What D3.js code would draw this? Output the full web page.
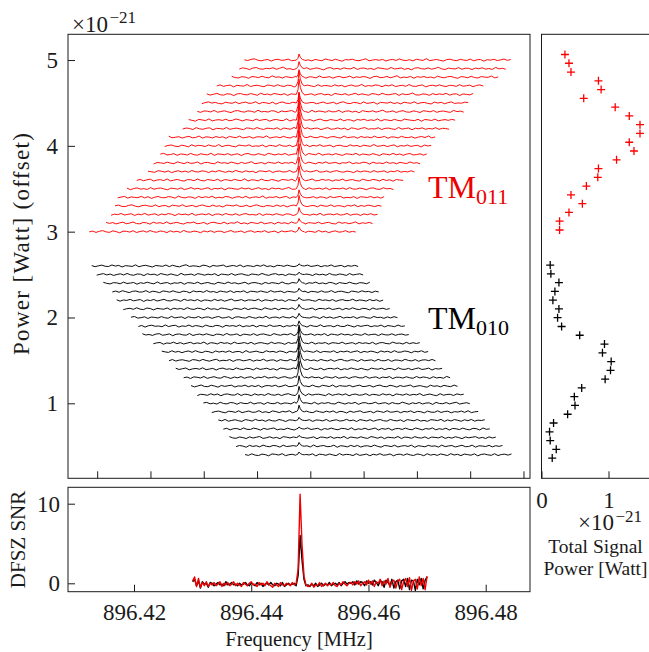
<!DOCTYPE html>
<html><head><meta charset="utf-8">
<script src="https://cdn.jsdelivr.net/npm/d3@7/dist/d3.min.js"></script>
<style>
body{margin:0;background:#fff;}
svg{display:block;}
</style></head><body>
<svg id="chart" width="649" height="652"></svg>
<script>
// ---------------- DATA ----------------
const peakFreq = 896.4483;      // MHz, injected signal
const windowWidth = 0.04;       // MHz, width of each spectrum

// TM011 (red), top trace first: vertical offsets (1e-21 W), window start (MHz), total signal power (1e-21 W)
const redOffset = [5.0,4.9,4.8,4.7,4.6,4.5,4.4,4.3,4.2,4.1,4.0,3.9,3.8,3.7,3.6,3.5,3.4,3.3,3.2,3.1,3.0];
const redStart = [896.44009,896.43934,896.43820,896.43595,896.43445,896.43370,896.43303,896.43174,896.43084,896.42874,896.42814,896.42748,896.42649,896.42563,896.42394,896.42248,896.42108,896.42068,896.42008,896.41933,896.41682];
const redPower = [0.35,0.41,0.44,0.85,0.89,0.63,1.10,1.31,1.47,1.47,1.31,1.38,1.12,0.85,0.84,0.67,0.44,0.61,0.41,0.27,0.27];

// TM010 (black), top trace first
const blackOffset = [2.6,2.5,2.4,2.3,2.2,2.1,2.0,1.9,1.8,1.7,1.6,1.5,1.4,1.3,1.2,1.1,1.0,0.9,0.8,0.7,0.6,0.5,0.4];
const blackStart = [896.41718,896.41793,896.41892,896.42027,896.42093,896.42192,896.42308,896.42418,896.42478,896.42643,896.42769,896.42879,896.42979,896.43099,896.43209,896.43303,896.43394,896.43520,896.43619,896.43694,896.43784,896.43885,896.44020];
const blackPower = [0.13,0.14,0.26,0.20,0.17,0.26,0.24,0.30,0.57,0.94,0.91,1.04,1.03,0.95,0.60,0.49,0.50,0.39,0.18,0.12,0.13,0.22,0.16];

// spectrum noise (1e-24 W) along each window
const redNoise = [
[3,-6,8,14,-2,-9,1,6,-12,4,9,-3,0,11,-7,-4,5,17,-5,2,-10,7,-1,-8,12,3,-6,9,-2,-14,6,1,10,-4,-7,3,15,-9,0,5,-3,8,-11,2,7,-5,13,-1,-6,4,-10,9,2,-4,16,-8,1,6,-3,-12,5,10,-2,-7,8,0,-5,11,-9,3,7,-13,4,-1,9,-6,2,12,-4,6],
[-5,9,2,-11,6,13,-3,-7,4,-1,10,-8,5,18,-6,0,-12,7,3,-4,11,-9,1,8,-2,-15,6,12,-5,3,-8,9,0,-3,14,-10,4,7,-6,2,-11,10,5,-2,-7,13,-4,1,8,-9,3,-14,6,11,-1,-5,9,-7,2,15,-3,-10,6,0,-4,12,-8,5,3,-11,7,-2,10,-6,1,-9,14,-3,4,-7],
[10,-4,-9,6,1,-13,8,3,-5,12,-2,-7,16,-1,4,-10,7,0,-6,11,-3,9,-12,5,2,-8,14,-4,-1,7,-11,3,10,-6,0,13,-9,5,-3,8,1,-14,6,11,-5,-2,9,-7,4,17,-8,2,-4,10,-12,6,-1,8,-5,3,-10,12,0,-7,5,9,-3,-13,7,2,-6,11,-4,-9,8,1,-2,14,-8,4],
[-2,11,-7,3,8,-12,5,0,-4,15,-9,2,6,-3,-11,9,4,-6,12,-1,-8,7,3,-14,10,-5,1,8,-2,-10,13,-6,4,0,-7,11,-3,6,-12,2,9,-5,-1,16,-8,3,-4,10,5,-11,7,-2,12,-9,0,6,-6,14,-3,-8,4,9,-13,2,7,-4,11,-1,-9,5,3,-7,13,-5,0,8,-11,4,10,-3],
[6,-8,1,12,-4,-9,7,3,-14,5,10,-2,-6,9,0,-11,14,-3,4,-7,11,2,-5,8,-12,6,1,-3,15,-8,-1,7,-10,4,9,-6,2,-13,11,3,-4,8,-9,0,13,-5,6,-2,-10,9,4,-7,12,-1,-5,3,10,-12,7,-3,1,16,-6,-8,5,2,-11,9,-4,6,-2,12,-9,3,7,-14,5,0,-6,10],
[-9,4,13,-2,7,-6,-11,8,1,-4,12,-8,3,10,-5,-1,14,-10,6,2,-7,9,-13,4,11,-3,-6,8,0,-12,15,-4,3,7,-9,1,11,-6,-2,9,-11,5,13,-3,-8,6,2,-10,12,-5,0,8,-14,7,3,-2,10,-7,4,-11,9,1,-4,14,-8,2,6,-5,-12,10,-1,7,-9,3,12,-6,0,-3,9,5],
[2,-10,7,4,-5,13,-8,0,9,-3,-12,6,11,-1,-7,8,3,-9,15,-4,1,-6,10,5,-13,7,-2,4,12,-9,-3,8,0,-11,14,-5,6,2,-8,10,-4,-1,13,-10,5,7,-6,3,-14,11,1,-3,9,-7,4,16,-6,-2,8,-11,3,10,-5,-8,7,1,-12,9,4,-4,11,-9,2,6,-3,-10,13,-1,5,-7],
[7,-3,-12,9,2,-6,14,-9,1,5,-4,11,-7,-2,13,3,-10,6,0,-8,12,-5,4,9,-13,2,8,-3,-6,15,-10,4,1,-7,10,-2,6,-11,3,12,-4,-8,7,0,-5,13,-9,5,2,-12,8,-1,11,-6,3,-4,14,-10,6,1,-7,9,-3,-9,12,4,-2,-6,10,-13,7,3,-5,11,-8,0,6,-3,9,-1],
[-4,8,3,-10,12,-2,-7,5,10,-13,4,1,-5,14,-8,2,7,-3,-11,9,5,-6,13,-1,-9,6,3,-4,11,-12,8,0,-6,15,-3,2,-9,10,-5,4,7,-11,1,12,-7,-2,9,-4,6,-14,10,3,-8,5,13,-6,0,-3,11,-10,4,7,-2,-9,14,-5,2,8,-12,6,-1,10,-7,3,-4,12,-8,5,1,-6],
[12,-5,0,7,-9,3,11,-6,-2,14,-10,5,2,-8,9,-3,6,-12,10,1,-4,13,-7,-1,8,-11,4,6,-3,16,-9,0,5,-6,11,-2,-8,9,3,-13,7,-4,12,-1,-6,10,2,-10,5,8,-3,-9,14,-5,1,6,-11,9,-2,4,-7,13,-4,0,10,-12,5,3,-8,11,-1,-5,7,-10,2,9,-3,15,-7,4],
[-7,5,10,-3,-9,8,1,-12,13,-4,6,2,-8,11,-1,-6,15,-9,3,7,-5,-11,9,4,-2,12,-8,0,-4,10,-13,6,3,-7,14,-1,-5,8,-10,5,2,-3,11,-9,6,-2,13,-6,0,9,-12,4,7,-4,-8,12,-2,5,-10,8,1,-6,16,-5,-1,7,-9,3,11,-11,4,-3,10,-7,2,6,-13,9,-1,5],
[4,13,-6,-1,9,-10,5,2,-7,12,-3,-9,8,0,-5,14,-11,6,3,-4,10,-8,1,7,-13,5,11,-2,-6,9,-1,-10,13,4,-7,6,-3,12,-9,0,8,-5,2,-12,11,3,-4,15,-8,1,6,-6,10,-2,-11,7,4,-3,13,-9,5,0,-7,9,-1,-13,8,2,-5,12,-4,6,-10,3,11,-6,-2,8,-8,5],
[-11,6,2,-5,10,-1,-8,13,3,-7,9,-4,0,12,-12,5,7,-3,-9,14,-2,4,-6,11,1,-10,8,-5,3,15,-8,-1,6,-11,9,2,-4,12,-7,5,-2,10,-13,6,4,-6,11,0,-9,8,-3,13,-5,2,7,-10,4,-1,14,-8,3,-5,9,6,-12,10,-3,1,-7,12,-4,5,-9,8,0,-6,13,-2,4,-10],
[5,-2,-9,11,4,-6,8,-12,1,10,-4,6,-8,13,-1,-5,9,3,-11,7,-3,12,2,-9,6,-6,14,0,-7,10,-3,4,-13,8,5,-1,11,-10,3,7,-5,-2,13,-8,6,1,-11,9,-4,2,15,-6,-3,8,-9,4,11,-2,-7,6,0,-12,10,-4,7,3,-8,12,-5,1,9,-11,5,-1,13,-7,2,-4,10,-3],
[-3,9,-7,4,12,-10,2,6,-5,14,-8,0,9,-3,-11,7,5,-6,13,-2,-9,8,1,-4,11,-12,6,3,-7,10,-1,-5,16,-9,4,2,-8,12,-3,-6,9,0,-13,7,5,-2,11,-10,3,8,-6,1,14,-7,-4,10,-1,6,-11,4,-3,13,-8,2,7,-5,-10,12,0,-6,9,3,-9,11,-4,5,-12,8,1,-2],
[8,-11,3,10,-4,1,-8,13,-6,5,9,-2,-12,7,3,-5,11,-9,0,14,-4,6,-7,2,12,-10,4,-1,9,-13,8,5,-3,-6,11,-2,7,-9,1,13,-5,3,-11,10,-1,6,-8,4,15,-7,-3,9,2,-10,12,-4,0,7,-6,11,-12,5,3,-2,9,-8,13,-3,-5,8,1,-11,6,10,-4,-7,12,-1,4,-9],
[-6,3,11,-9,5,0,-4,12,-7,8,-13,2,10,-3,-5,9,4,-10,14,-1,-7,6,2,-12,11,-4,7,-2,13,-8,1,-6,10,5,-11,3,8,-5,12,-9,0,6,-3,15,-10,4,-1,9,-7,3,11,-12,5,2,-4,13,-6,-2,8,-9,6,1,-11,10,-3,4,12,-8,0,-5,9,-13,7,3,-2,11,-6,5,-9,8],
[1,10,-5,-8,6,13,-3,-10,4,8,-1,-6,12,-9,2,5,-12,9,3,-4,14,-7,0,7,-11,4,11,-3,-8,10,-5,2,-13,9,6,-1,12,-6,-4,8,-10,3,13,-2,-9,5,1,-7,11,-5,7,-12,3,10,-3,-6,14,-8,2,5,-10,9,-1,-4,12,-7,4,0,-11,8,-2,13,-9,5,-5,10,2,-8,6,-3],
[-8,4,-1,12,-6,2,9,-11,5,-3,13,-7,1,8,-10,6,-4,11,3,-13,9,-2,5,-6,14,-9,0,7,-3,10,-12,4,6,-8,12,-1,-5,9,-10,3,11,-4,0,-7,13,-11,5,2,-6,10,-2,-9,8,4,-12,7,-3,11,1,-8,5,-5,14,-10,2,6,-4,9,-7,-1,12,-9,3,5,-11,8,-3,10,-6,2],
[9,-4,6,-10,2,11,-7,0,13,-5,-9,7,3,-12,10,-2,5,-6,14,-8,1,9,-4,-11,6,2,12,-7,-3,8,-13,5,10,-1,-6,11,-9,4,-2,15,-7,3,-10,9,1,-5,12,-8,0,6,-11,10,-3,4,-9,13,-1,-6,7,-12,5,2,-4,11,-8,3,9,-5,-10,12,-2,6,-7,1,14,-9,4,-3,8,-5],
[-2,7,-9,5,12,-3,-8,10,0,-13,6,4,-5,11,-10,2,9,-6,13,-1,-7,8,3,-11,10,-4,5,-9,15,-2,-6,7,1,-12,9,-3,11,-8,4,6,-10,2,13,-5,-1,8,-11,5,10,-7,3,-4,12,-9,0,7,-13,9,-2,4,11,-6,-3,10,-10,5,1,-8,14,-4,6,-11,2,9,-6,-1,12,-7,3,-4]
];
const blackNoise = [
[5,-8,2,10,-3,-6,12,-1,7,-11,4,0,-5,13,-9,3,8,-2,-12,6,1,-4,11,-7,9,-3,-10,5,14,-6,2,-1,-8,10,4,-13,7,-2,3,11,-9,0,6,-5,12,-10,4,1,-7,9,-3,13,-6,2,-11,8,5,-4,10,-1,-8,6,-12,3,11,-5,0,9,-9,4,-2,12,-7,1,7,-10,5,-3,8,-6],
[-7,3,11,-4,6,-10,1,9,-5,13,-2,-8,7,4,-12,10,-1,5,-9,12,2,-6,8,-3,-11,14,-4,0,6,-9,11,3,-7,5,-2,10,-13,6,1,-5,12,-8,4,9,-3,-10,7,2,-6,13,-1,-9,5,11,-4,3,-12,8,0,-5,10,-7,6,2,-11,9,-3,4,-8,13,-2,-6,7,1,-10,12,-5,3,9,-4],
[10,-2,-9,6,3,-7,12,-4,1,8,-12,5,-3,11,0,-8,14,-6,2,7,-10,4,-1,9,-13,6,3,-5,12,-9,1,8,-4,-11,10,2,-6,13,-3,5,-8,0,11,-10,4,7,-2,-12,9,-5,6,1,-7,14,-4,-9,8,2,-3,10,-11,5,-1,12,-6,3,-8,9,4,-13,7,0,-5,11,-2,-9,6,3,-7,10],
[-3,8,-6,12,1,-10,5,9,-4,-2,13,-8,6,0,-11,9,4,-5,11,-3,-9,7,2,-13,10,-1,5,-7,14,-4,3,-10,8,1,-6,12,-9,4,-2,11,-12,6,3,-5,9,-1,-8,13,-4,2,7,-11,5,0,-6,12,-3,9,-10,4,1,-7,10,-5,-2,13,-9,3,6,-4,-12,8,2,-6,11,-1,4,-9,7,-3],
[6,-10,4,-1,11,-6,2,9,-13,5,-3,10,-8,1,12,-4,-7,8,3,-11,13,-2,6,-5,9,-12,4,1,-8,11,-3,7,-10,2,14,-6,-1,9,-9,5,3,-4,12,-11,6,0,-7,10,-2,4,-13,8,1,-5,11,-8,3,7,-3,-10,12,-1,5,-6,9,-12,2,8,-4,-2,13,-7,4,0,-9,10,-5,6,-11,3],
[-9,2,7,-5,13,-3,-8,10,4,-12,6,1,-4,11,-10,8,-2,5,-7,14,-1,-6,9,3,-11,12,-4,2,-9,10,5,-3,-13,7,1,-6,11,-8,4,9,-2,-10,13,0,-5,8,-11,6,3,-4,12,-9,2,7,-6,-1,10,-12,5,4,-3,11,-7,0,9,-10,6,-5,13,-2,-8,7,3,-11,10,-4,1,8,-6,4],
[3,12,-7,-2,8,-11,5,1,-6,10,-3,-9,13,-5,2,7,-12,9,-1,-4,11,-8,4,6,-10,3,12,-6,-2,9,-13,5,8,-3,-7,11,0,-9,6,-4,14,-10,2,5,-8,10,-1,-5,12,-11,4,7,-3,-6,9,2,-12,11,-4,6,-9,1,13,-7,3,-2,10,-11,5,8,-4,-8,12,-1,3,-10,7,-5,9,-2],
[-5,7,-12,4,10,-3,1,-8,13,-6,5,9,-11,2,-4,12,-7,6,0,-10,11,-2,-7,8,4,-13,9,-1,6,-5,12,-9,3,-3,10,-11,7,2,-6,13,-4,0,8,-10,5,-2,11,-8,3,6,-12,9,-1,-5,14,-7,2,4,-9,10,-3,-6,12,1,-11,7,-4,5,9,-8,3,-2,11,-10,6,0,-7,12,-4,2],
[11,-4,2,-9,6,12,-7,-1,9,-12,4,8,-3,-6,13,-10,1,7,-5,10,-2,-11,6,3,-8,14,-4,-1,9,-13,5,2,-6,11,-9,4,8,-3,-10,12,0,-7,6,-2,13,-11,3,9,-5,-1,10,-8,5,-4,12,-12,7,1,-6,11,-3,4,-9,8,-1,-7,13,-5,2,6,-11,9,-2,-4,10,-8,3,7,-6,1],
[-6,4,9,-11,3,-2,12,-5,7,-9,1,11,-7,4,-3,14,-12,6,2,-8,10,-1,5,-10,13,-4,0,8,-6,11,-11,3,7,-2,-9,12,-4,6,1,-13,9,-3,5,10,-7,2,-5,13,-9,4,-1,8,-11,6,3,-4,12,-8,0,7,-10,9,-2,5,-6,11,-12,4,8,-3,-7,13,-1,2,-9,10,-5,6,-3,7],
[8,-1,-7,12,-4,5,-10,3,9,-6,13,-2,-9,7,1,-12,10,-3,6,-5,11,-8,2,4,-11,14,-6,0,8,-4,-10,12,-1,5,-7,9,3,-13,7,-2,11,-5,-8,10,2,-6,13,-9,4,1,-3,12,-11,6,-1,9,-7,3,11,-10,5,-4,8,0,-12,10,-2,6,-8,13,-5,-3,9,4,-11,7,-1,12,-6,3],
[-4,10,-8,3,7,-2,-11,9,5,-6,12,-1,-9,4,13,-7,2,-3,10,-12,6,8,-5,1,11,-9,4,-2,14,-8,3,6,-11,9,-1,-5,12,-4,2,7,-13,10,-3,5,-8,11,0,-6,9,-10,4,13,-2,-7,8,3,-12,11,-5,1,6,-9,12,-3,-4,10,-11,5,2,-7,13,-1,-6,9,-10,4,7,-3,11,-5],
[9,-6,3,11,-10,1,6,-3,13,-8,-1,7,-12,5,10,-4,2,-9,12,-2,-6,8,4,-11,11,-5,1,9,-7,3,-13,10,6,-4,-1,12,-9,5,2,-8,14,-3,-6,9,-11,4,7,-2,11,-10,3,-5,12,1,-7,8,-4,-12,10,2,-3,9,-8,6,4,-11,13,-2,-5,7,-9,3,12,-6,0,10,-12,5,-1,8],
[-2,6,-11,8,3,-5,12,-9,1,10,-4,-7,13,2,-10,6,-3,11,-8,4,9,-12,5,-1,14,-6,0,8,-10,3,11,-4,-7,12,1,-9,6,-5,10,-2,4,-13,9,3,-6,12,-8,0,7,-11,5,10,-3,-4,13,-7,2,8,-10,6,-1,11,-12,4,3,-6,9,-2,-9,12,-4,7,1,-11,10,-5,2,-8,13,-3],
[7,-9,2,13,-4,-6,10,1,-12,8,-3,5,11,-10,3,-1,12,-7,6,-5,9,-13,4,7,-2,11,-8,0,14,-6,-3,9,-11,5,2,-7,12,-4,-9,10,3,-5,13,-12,6,1,-2,9,-8,4,11,-6,-1,8,-10,5,12,-3,-7,10,2,-11,7,-4,3,13,-9,1,6,-5,-12,11,-2,4,-8,9,0,-6,12,-3],
[-10,5,1,-7,11,-3,8,-12,4,9,-2,-5,13,-9,6,2,-11,10,-4,3,-8,14,-1,-6,7,-10,5,12,-3,-9,8,1,-13,11,-5,4,6,-2,-11,13,-7,2,9,-4,10,-12,3,7,-6,-1,12,-9,5,0,-8,11,-3,6,-13,9,2,-5,10,-7,4,-2,13,-10,1,8,-4,-11,12,-6,3,5,-9,10,-1,6],
[4,11,-6,2,-9,12,-3,-7,9,5,-11,8,-1,-4,13,-8,3,6,-12,10,-2,-5,11,-9,4,1,-7,14,-3,-10,8,2,-6,12,-11,5,-1,9,-4,-8,13,3,-9,6,-2,11,-12,4,8,-5,-1,12,-7,2,7,-10,9,-3,-6,13,1,-11,6,-4,10,-8,3,5,-13,11,-2,-5,9,-7,4,12,-9,0,7,-4],
[-8,3,9,-2,-11,7,4,-6,12,-9,1,10,-5,-3,14,-7,2,-10,11,4,-8,6,-1,13,-12,5,3,-6,10,-4,-9,12,1,-7,8,-3,11,-10,6,2,-13,9,-5,4,12,-8,-2,7,-11,10,3,-6,13,-4,0,8,-10,5,-1,11,-9,6,2,-12,9,-3,-5,12,-7,4,8,-11,3,-2,10,-6,13,-9,1,5],
[6,-5,12,-9,1,8,-3,-11,10,3,-7,13,-2,5,-10,9,-4,-6,11,2,-12,7,4,-3,14,-8,-1,9,-11,6,3,-5,12,-10,1,8,-7,-2,13,-4,5,-12,10,2,-6,9,-9,4,11,-3,-8,12,0,-5,7,-13,10,3,-4,11,-7,1,-10,9,5,-2,13,-11,6,-6,10,2,-9,8,-3,12,-8,4,-1,9],
[-1,9,-10,4,6,-7,13,-3,-5,11,2,-12,8,-4,5,12,-9,1,-6,10,-2,-11,7,4,-8,13,-5,2,9,-12,6,-3,11,-1,-9,8,5,-6,14,-10,3,-4,10,-7,1,12,-11,6,-2,9,-13,4,7,-5,11,-3,-8,12,2,-10,6,-1,13,-9,4,-4,10,-12,7,3,-6,11,-2,-9,8,5,-11,12,-3,2],
[12,-3,-8,7,1,-11,9,-5,4,13,-9,-2,10,-6,3,-12,11,5,-4,8,-10,2,12,-7,-1,9,-13,6,4,-5,11,-8,3,-3,14,-11,7,1,-6,10,-2,-9,12,4,-7,8,-12,5,0,-4,13,-10,6,3,-8,11,-1,-5,9,-11,7,2,-3,12,-9,4,-6,10,1,-12,8,-2,5,11,-7,3,-10,9,-4,6],
[-5,8,2,-12,10,-3,6,-8,13,-1,-6,9,4,-10,12,-4,1,7,-11,11,-2,5,-9,14,-7,3,8,-5,-3,12,-12,6,1,-8,10,-4,9,-10,3,5,-6,13,-2,-11,8,4,-5,11,-9,2,7,-3,12,-13,6,0,-7,10,-1,4,-10,13,-5,3,8,-9,1,11,-6,-3,12,-11,5,2,-4,10,-8,6,-2,9],
[3,-7,11,-4,-9,8,2,-12,10,5,-3,13,-10,1,6,-5,12,-8,4,-2,11,-13,7,3,-6,9,-1,-10,14,-4,5,2,-9,12,-7,0,8,-11,6,-3,13,-5,-1,10,-12,4,7,-6,11,-2,-8,9,3,-11,12,-4,5,-7,10,1,-9,13,-3,6,-10,8,2,-5,11,-12,4,9,-1,-6,12,-9,3,7,-4,10]
];
// line shape of the signal peak: offset from peakFreq (MHz) and relative height
const peakShapeOffset = [-0.0004,-0.00015,0,0.0002,0.0005,0.0008];
const peakShapeValue = [0,0.3,1,0.45,0.1,0];
const peakPerPower = 0.2;

// combined DFSZ SNR spectra (bottom panel), 896.43 .. 896.47 MHz
const snrStart = 896.43;
const snrBlack = [0.2,0.5,-0.3,0.3,-0.6,0.2,-0.1,0.0,-0.5,0.1,
 0.0,-0.3,-0.1,0.1,-0.2,-0.1,-0.3,0.2,-0.2,-0.1,
 0.1,-0.2,-0.1,-0.3,0.0,-0.2,-0.1,0.1,-0.2,-0.3,
 0.0,-0.1,-0.3,0.1,-0.2,0.0,-0.4,-0.1,0.0,-0.2,
 0.1,-0.2,-0.3,0.0,-0.1,-0.3,0.1,-0.4,-0.2,0.0,
 -0.2,-0.1,0.0,-0.3,1.0,6.0,2.9,0.5,-0.3,-0.2,-0.4,
 -0.1,-0.3,0.0,-0.4,-0.2,0.0,-0.3,-0.1,-0.2,0.1,
 -0.3,-0.1,0.0,-0.2,0.1,-0.3,0.0,0.2,-0.1,0.1,
 0.0,0.2,-0.2,0.3,-0.1,0.2,0.1,-0.3,0.3,0.0,
 0.2,-0.2,0.4,0.1,-0.3,0.3,0.2,-0.5,0.4,0.1,
 -0.3,0.5,-0.6,0.2,0.4,-0.7,0.3,0.5,-0.4,0.6,
 -0.8,0.4,0.3,-0.9,0.5,-0.2,0.6,-0.7,0.4,0.8];
const snrRed = [0.3,0.8,-0.4,0.6,-0.5,0.1,-0.3,0.2,-0.4,0.0,
 -0.2,0.1,-0.3,-0.1,0.2,-0.4,0.0,-0.2,0.1,-0.3,
 -0.1,0.2,-0.3,0.0,-0.2,-0.4,0.1,-0.1,-0.3,0.0,
 0.2,-0.2,-0.1,-0.4,0.1,-0.2,0.0,-0.3,0.2,-0.1,
 -0.3,-0.5,0.0,-0.2,-0.4,0.1,-0.2,-0.3,0.0,-0.1,
 -0.3,0.1,-0.2,0.0,1.8,11.2,4.8,0.9,-0.2,-0.4,-0.3,
 0.0,-0.5,-0.2,-0.3,0.1,-0.4,-0.2,0.0,-0.3,-0.1,
 -0.2,0.1,-0.3,-0.4,0.0,-0.2,0.2,-0.1,-0.3,0.0,
 0.1,-0.2,0.2,-0.1,0.3,-0.3,0.0,0.2,-0.2,0.4,
 -0.1,0.3,-0.4,0.2,0.0,0.5,-0.3,0.3,-0.1,0.6,
 -0.5,0.2,0.4,-0.6,0.3,0.5,-0.8,0.2,0.6,-0.4,
 0.7,-0.9,0.3,0.5,-0.7,0.8,-0.3,0.6,-0.8,0.9];

// tick values
const mainYTicks = [1,2,3,4,5];
const mainXTicks = [896.418,896.426,896.434,896.442,896.450,896.458,896.466,896.474,896.482];
const snrXTicks = [896.42,896.44,896.46,896.48];
const snrYTicks = [0,10];
const powerXTicks = [0,1];

// ---------------- LAYOUT ----------------
const FONT = "Liberation Serif";
const INK = "#1a1a1a";
const M = {x0:68, x1:530, y0:34.3, y1:478.3};
const R = {x0:541.5, x1:652, y0:34.3, y1:478.3};
const B = {x0:68, x1:530, y0:487.3, y1:591.7};

const xMain = d3.scaleLinear().domain([896.41362, 896.48298]).range([M.x0, M.x1]);
const yMain = d3.scaleLinear().domain([0.126, 5.30]).range([M.y1, M.y0]);
const xPow = d3.scaleLinear().domain([0, 1.65]).range([R.x0, R.x0 + 1.65*67]);
const yPow = d3.scaleLinear().domain([0.17, 5.23]).range([R.y1, R.y0]);
const xSnr = d3.scaleLinear().domain([896.42, 896.48]).range([134, 485.7]);
const ySnr = d3.scaleLinear().domain([-1.055, 12.06]).range([B.y1, B.y0]);

const svg = d3.select("#chart");
svg.append("rect").attr("width",649).attr("height",652).attr("fill","#fff");
const defs = svg.append("defs");
function clip(id, P){
  defs.append("clipPath").attr("id",id).append("rect")
    .attr("x",P.x0).attr("y",P.y0).attr("width",P.x1-P.x0).attr("height",P.y1-P.y0);
}
clip("cM",M); clip("cR",R); clip("cB",B);

// ---------------- MAIN WATERFALL ----------------
function traceData(start, noise, power){
  const step = windowWidth/(noise.length-1);
  const lo = peakFreq + peakShapeOffset[0], hi = peakFreq + peakShapeOffset[peakShapeOffset.length-1];
  const pts = noise.map((n,j)=>({f:start + j*step, v:n/1000})).filter(p => p.f < lo || p.f > hi);
  peakShapeOffset.forEach((o,k)=>pts.push({f:peakFreq+o, v:power*peakPerPower*peakShapeValue[k]}));
  pts.sort((a,b)=>a.f-b.f);
  return pts;
}
const gMain = svg.append("g").attr("clip-path","url(#cM)");
function drawSet(offsets, starts, powers, noises, color){
  offsets.forEach((base,i)=>{
    const line = d3.line().x(p=>xMain(p.f)).y(p=>yMain(base + p.v));
    gMain.append("path").datum(traceData(starts[i], noises[i], powers[i]))
      .attr("d", line).attr("fill","none").attr("stroke",color)
      .attr("stroke-width",0.95).attr("stroke-linejoin","round");
  });
}
drawSet(blackOffset, blackStart, blackPower, blackNoise, "#000");
drawSet(redOffset, redStart, redPower, redNoise, "#ff0000");

// mode labels
const tm1 = svg.append("text").attr("x",428).attr("y",198).attr("fill","#ee0000")
  .attr("font-family",FONT).attr("font-size",32).text("TM");
tm1.append("tspan").attr("font-size",22).attr("dy",5.5).text("011");
const tm0 = svg.append("text").attr("x",428).attr("y",329).attr("fill","#000")
  .attr("font-family",FONT).attr("font-size",32).text("TM");
tm0.append("tspan").attr("font-size",22).attr("dy",5.5).text("010");

// ---------------- RIGHT PANEL (total power) ----------------
const gR = svg.append("g").attr("clip-path","url(#cR)");
function crosses(offsets, powers, color){
  offsets.forEach((v,i)=>{
    const x = xPow(powers[i]), y = yPow(v);
    gR.append("path").attr("d",`M${x-4},${y}H${x+4}M${x},${y-4}V${y+4}`)
      .attr("stroke",color).attr("stroke-width",1.3).attr("fill","none");
  });
}
crosses(redOffset, redPower, "#ff0000");
crosses(blackOffset, blackPower, "#000");

// ---------------- BOTTOM PANEL (SNR) ----------------
const gB = svg.append("g").attr("clip-path","url(#cB)");
function snrLine(vals, color){
  const step = windowWidth/(vals.length-1);
  const line = d3.line().x((d,j)=>xSnr(snrStart + j*step)).y(d=>ySnr(d));
  gB.append("path").datum(vals).attr("d",line).attr("fill","none")
    .attr("stroke",color).attr("stroke-width",1.4).attr("stroke-linejoin","round");
}
snrLine(snrBlack, "#000");
snrLine(snrRed, "#ee0000");

// ---------------- AXES & FRAMES ----------------
function styleAxis(g, size){
  g.attr("font-family",FONT).attr("font-size",size);
  g.select(".domain").remove();
  g.selectAll(".tick line").attr("stroke",INK).attr("stroke-width",1);
  g.selectAll(".tick text").attr("fill",INK).attr("font-family",FONT);
}
styleAxis(svg.append("g").attr("transform",`translate(${M.x0},0)`)
  .call(d3.axisLeft(yMain).tickValues(mainYTicks).tickSize(-7).tickPadding(10).tickFormat(d3.format("d"))), 23);
styleAxis(svg.append("g").attr("transform",`translate(0,${M.y1})`)
  .call(d3.axisBottom(xMain).tickValues(mainXTicks).tickSize(-7).tickFormat(()=>"")), 23);
styleAxis(svg.append("g").attr("transform",`translate(0,${B.y1})`)
  .call(d3.axisBottom(xSnr).tickValues(snrXTicks).tickSize(-7).tickPadding(12).tickFormat(d3.format(".2f"))), 23);
styleAxis(svg.append("g").attr("transform",`translate(${B.x0},0)`)
  .call(d3.axisLeft(ySnr).tickValues(snrYTicks).tickSize(-7).tickPadding(8).tickFormat(d3.format("d"))), 23);
styleAxis(svg.append("g").attr("transform",`translate(0,${R.y1})`)
  .call(d3.axisBottom(xPow).tickValues(powerXTicks).tickSize(-7).tickPadding(13).tickFormat(d3.format("d"))), 23);

[M,R,B].forEach(P=>{
  svg.append("rect").attr("x",P.x0).attr("y",P.y0).attr("width",P.x1-P.x0).attr("height",P.y1-P.y0)
    .attr("fill","none").attr("stroke",INK).attr("stroke-width",1);
});

// ---------------- TEXT ----------------
function txt(x,y,s,size,anchor){
  return svg.append("text").attr("x",x).attr("y",y).attr("font-family",FONT)
    .attr("font-size",size).attr("fill",INK).attr("text-anchor",anchor||"start").text(s);
}
// multiplier above the main panel
const topMul = txt(72,31.7,"×10",23);
topMul.append("tspan").attr("font-size",17).attr("dx",1.5).attr("dy",-8.5).text("−21");
// right panel multiplier and axis label
const rMul = txt(578,530,"×10",23);
rMul.append("tspan").attr("font-size",17).attr("dx",1.5).attr("dy",-8.5).text("−21");
txt(595.5,553,"Total Signal",19.5,"middle");
txt(595.5,575,"Power [Watt]",19.5,"middle");

txt(299,645.5,"Frequency [MHz]",20.5,"middle");
svg.append("text").attr("transform","translate(28.5,244) rotate(-90)").attr("text-anchor","middle")
  .attr("font-family",FONT).attr("font-size",23).attr("fill",INK)
  .attr("textLength",222).attr("lengthAdjust","spacing").text("Power [Watt] (offset)");
svg.append("text").attr("transform","translate(25,539.5) rotate(-90)").attr("text-anchor","middle")
  .attr("font-family",FONT).attr("font-size",21).attr("fill",INK).text("DFSZ SNR");
</script>
</body></html>
